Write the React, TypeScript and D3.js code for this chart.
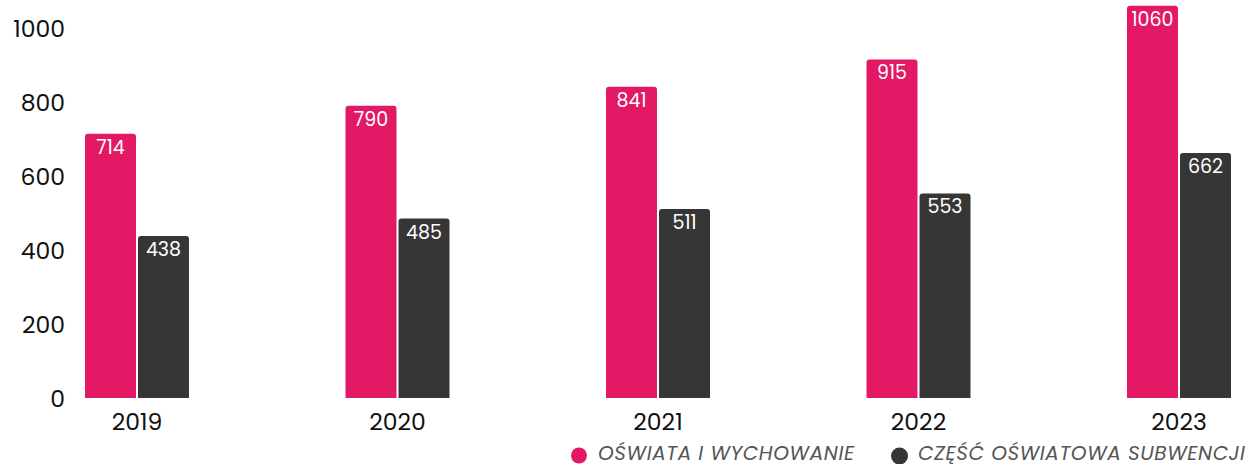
import React from "react";
import * as d3 from "d3";

const years = ["2019", "2020", "2021", "2022", "2023"];
const oswiata = [714, 790, 841, 915, 1060];
const subwencja = [438, 485, 511, 553, 662];
const seriesNames = ["OŚWIATA I WYCHOWANIE", "CZĘŚĆ OŚWIATOWA SUBWENCJI"];
const yTicks = [0, 200, 400, 600, 800, 1000];

const W = 1253;
const H = 464;
const colors = ["#E31966", "#363636"];
const FONT = "Poppins, Inter, 'Open Sans', sans-serif";

function topRounded(x: number, y: number, w: number, h: number, r: number) {
  const rr = Math.min(r, h, w / 2);
  return `M${x},${y + h}V${y + rr}Q${x},${y} ${x + rr},${y}H${x + w - rr}Q${x + w},${y} ${x + w},${y + rr}V${y + h}Z`;
}

export default function App() {
  const y = d3.scaleLinear().domain([0, 1000]).range([398, 28]);
  const x = d3.scalePoint<string>().domain(years).range([137, 1179]);
  const inner = d3.scaleBand<string>().domain(["a", "b"]).range([-52, 52]).paddingInner(0.038);
  const data = [oswiata, subwencja];
  const keys = ["a", "b"];

  return (
    <svg width={W} height={H} style={{ position: "absolute", left: 0, top: 0, fontFamily: FONT }}>
      <rect width={W} height={H} fill="#fff" />
      {yTicks.map((t) => (
        <text key={t} x={65} y={y(t) + 9} textAnchor="end" fontSize={23.5} fill="#111">
          {t}
        </text>
      ))}
      {data.map((series, si) =>
        series.map((v, i) => {
          const bx = (x(years[i]) as number) + (inner(keys[si]) as number);
          const bw = inner.bandwidth();
          const by = y(v);
          const bh = y(0) - by;
          return (
            <g key={`${si}-${i}`}>
              <path d={topRounded(bx, by, bw, bh, 3)} fill={colors[si]} />
              <text x={bx + bw / 2} y={by + 20} textAnchor="middle" fontSize={19} fill="#fff">
                {v}
              </text>
            </g>
          );
        })
      )}
      {years.map((yr) => (
        <text key={yr} x={x(yr) as number} y={430} textAnchor="middle" fontSize={23.5} fill="#111">
          {yr}
        </text>
      ))}
      <g>
        <circle cx={579} cy={455.5} r={8} fill={colors[0]} />
        <text x={598} y={460} fontSize={20} fontStyle="italic" letterSpacing={0.6} fill="#555">
          {seriesNames[0]}
        </text>
        <circle cx={899.5} cy={456} r={8.5} fill={colors[1]} />
        <text x={918} y={460} fontSize={20} fontStyle="italic" letterSpacing={0.6} fill="#555">
          {seriesNames[1]}
        </text>
      </g>
    </svg>
  );
}
